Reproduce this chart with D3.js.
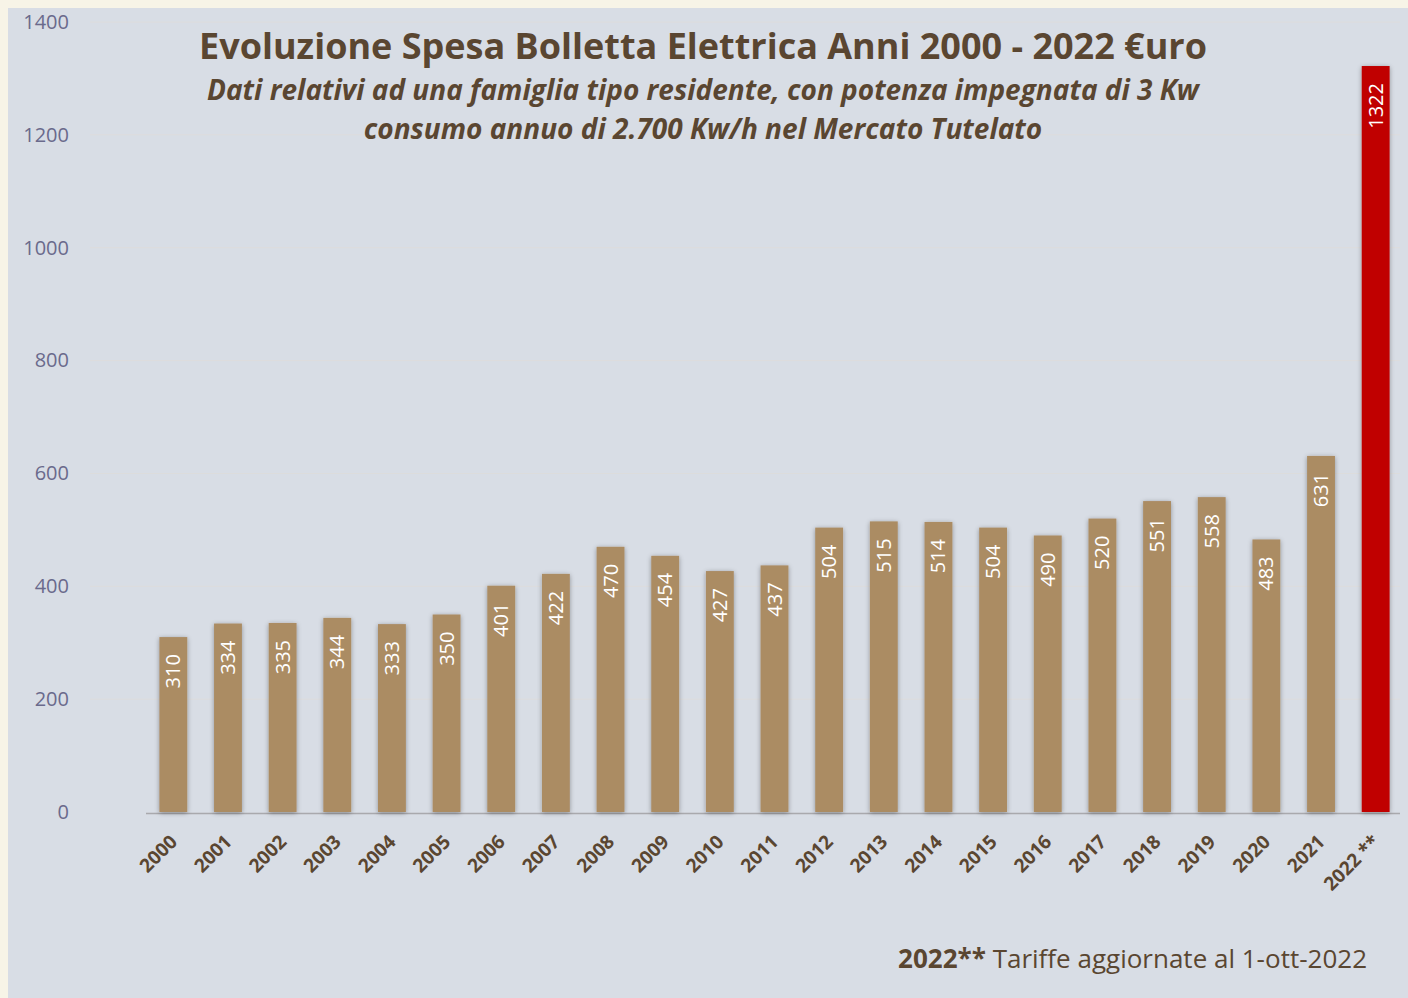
<!DOCTYPE html>
<html>
<head>
<meta charset="utf-8">
<script src="https://cdn.jsdelivr.net/npm/d3@7"></script>
<style>
  html, body { margin: 0; padding: 0; background: #f7f4e7; }
  svg { display: block; }
  text { font-family: "Open Sans", "Noto Sans", sans-serif; }
</style>
</head>
<body>
<svg id="chart" width="1408" height="998"></svg>
<script>
const years = ["2000","2001","2002","2003","2004","2005","2006","2007","2008","2009","2010","2011",
  "2012","2013","2014","2015","2016","2017","2018","2019","2020","2021","2022 **"];
const spesa = [310,334,335,344,333,350,401,422,470,454,427,437,504,515,514,504,490,520,551,558,483,631,1322];
const yTicks = [0,200,400,600,800,1000,1200,1400];

const titolo = "Evoluzione Spesa Bolletta Elettrica Anni 2000 - 2022 €uro";
const sottotitolo = ["Dati relativi ad una famiglia tipo residente, con potenza impegnata di 3 Kw",
  "consumo annuo di 2.700 Kw/h nel Mercato Tutelato"];

const svg = d3.select("#chart");
const W = 1408, H = 998;

// plot background
svg.append("rect").attr("x", 8).attr("y", 8).attr("width", W - 8).attr("height", H - 8)
  .attr("fill", "#d8dde5");

const defs = svg.append("defs");
const shadow = defs.append("filter").attr("id", "shadow")
  .attr("x", "-40%").attr("y", "-5%").attr("width", "180%").attr("height", "110%");
shadow.append("feGaussianBlur").attr("in", "SourceAlpha").attr("stdDeviation", 2.5).attr("result", "b");
shadow.append("feOffset").attr("in", "b").attr("dx", 0).attr("dy", 1).attr("result", "o");
shadow.append("feComponentTransfer").attr("in", "o").attr("result", "s")
  .append("feFuncA").attr("type", "linear").attr("slope", 0.35);
const fm = shadow.append("feMerge");
fm.append("feMergeNode").attr("in", "s");
fm.append("feMergeNode").attr("in", "SourceGraphic");

const x = d3.scaleBand().domain(years).range([146, 1403]).paddingInner(0.49).paddingOuter(0.245);
const y = d3.scaleLinear().domain([0, 1400]).range([812, 22]);

// gridlines
svg.append("g").selectAll("line").data(yTicks.filter(d => d > 0)).join("line")
  .attr("x1", 90).attr("x2", 1400)
  .attr("y1", d => y(d)).attr("y2", d => y(d))
  .attr("stroke", "#dddcdc").attr("stroke-width", 1);

// y axis labels
const yAxis = svg.append("g").attr("transform", "translate(69,0)")
  .call(d3.axisLeft(y).tickValues(yTicks).tickFormat(d3.format("d")).tickSize(0).tickPadding(0));
yAxis.select(".domain").remove();
yAxis.selectAll("text")
  .attr("fill", "#6a6a8c").style("font-size", "20px")
  .style("font-family", "'Open Sans', sans-serif");

// baseline
svg.append("line").attr("x1", 146).attr("x2", 1400).attr("y1", 813.5).attr("y2", 813.5)
  .attr("stroke", "#a9a9ad").attr("stroke-width", 1.5);

// bars
svg.append("g").selectAll("rect").data(spesa).join("rect")
  .attr("x", (d, i) => x(years[i]))
  .attr("y", d => y(d))
  .attr("width", x.bandwidth())
  .attr("height", d => y(0) - y(d))
  .attr("fill", (d, i) => i === years.length - 1 ? "#c00000" : "#ab8c64")
  .attr("filter", "url(#shadow)");

// value labels
svg.append("g").selectAll("text").data(spesa).join("text")
  .attr("transform", (d, i) => `translate(${x(years[i]) + x.bandwidth() / 2 + 7},${y(d) + 17}) rotate(-90)`)
  .attr("text-anchor", "end")
  .attr("fill", "#ffffff")
  .style("font-size", "20px")
  .text(d => d);

// x labels
svg.append("g").selectAll("text").data(years).join("text")
  .attr("transform", d => `translate(${x(d) + x.bandwidth() / 2 + 5},${843}) rotate(-45)`)
  .attr("text-anchor", "end")
  .attr("fill", "#5a4631")
  .style("font-size", "19px").style("font-weight", "bold")
  .text(d => d);

// titles
svg.append("text").attr("x", 703).attr("y", 59).attr("text-anchor", "middle")
  .attr("fill", "#5a4631").style("font-size", "36px").style("font-weight", "bold")
  .text(titolo);
sottotitolo.forEach((t, i) => {
  svg.append("text").attr("x", 703).attr("y", 100 + i * 39).attr("text-anchor", "middle")
    .attr("fill", "#5a4631").style("font-size", "28px").style("font-weight", "bold")
    .style("font-style", "italic").text(t);
});

// footnote
const foot = svg.append("text").attr("x", 1367).attr("y", 968).attr("text-anchor", "end")
  .attr("fill", "#5a4631").style("font-size", "26px");
foot.append("tspan").style("font-weight", "bold").text("2022**");
foot.append("tspan").text(" Tariffe aggiornate al 1-ott-2022");
</script>
</body>
</html>
